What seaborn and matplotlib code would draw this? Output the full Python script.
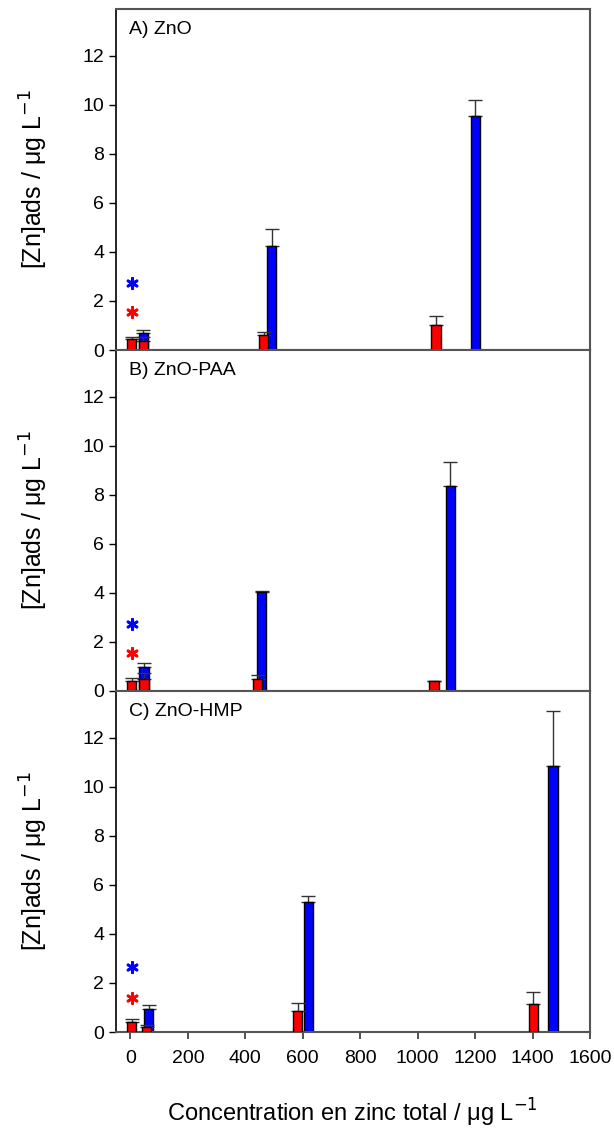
import matplotlib
matplotlib.use("Agg")
import matplotlib.pyplot as plt
import seaborn as sns
import numpy as np

# panel titles
panels = ["A) ZnO", "B) ZnO-PAA", "C) ZnO-HMP"]

# red series (x = total zinc, y = adsorbed zinc, upper error)
red_x = [[4, 45, 464, 1064], [4, 47, 443, 1057], [4, 57, 583, 1403]]
red_y = [[0.44, 0.38, 0.61, 1.02], [0.42, 0.48, 0.48, 0.41], [0.41, 0.20, 0.85, 1.13]]
red_err = [[0.10, 0.14, 0.12, 0.38], [0.12, 0.27, 0.16, 0.0], [0.13, 0.07, 0.35, 0.52]]

# blue series
blue_x = [[45, 492, 1200], [47, 457, 1113], [63, 619, 1471]]
blue_y = [[0.71, 4.24, 9.56], [0.97, 4.05, 8.34], [0.94, 5.30, 10.83]]
blue_err = [[0.11, 0.69, 0.62], [0.16, 0.02, 0.99], [0.15, 0.25, 2.27]]

# significance stars
star_x = [4, 4, 4]
star_red_y = [1.56, 1.56, 1.38]
star_blue_y = [2.72, 2.73, 2.64]

x_ticks = [0, 200, 400, 600, 800, 1000, 1200, 1400, 1600]
y_ticks = [0, 2, 4, 6, 8, 10, 12]

sns.set_style("ticks")
plt.rcParams['font.family'] = ['Liberation Sans', 'DejaVu Sans']
plt.rcParams['text.color'] = 'black'
plt.rcParams['axes.labelcolor'] = 'black'
plt.rcParams['xtick.labelcolor'] = 'black'
plt.rcParams['ytick.labelcolor'] = 'black'

fig = plt.figure(figsize=(6.14, 11.35), dpi=100)
bottoms = [0.6916, 0.3912, 0.0907]
bar_w = 32

for i in range(3):
    ax = fig.add_axes([0.189, bottoms[i], 0.772, 0.3004])
    ax.bar(blue_x[i], blue_y[i], width=bar_w, color='#0000ff', edgecolor='black',
           linewidth=1, zorder=2)
    ax.errorbar(blue_x[i], blue_y[i], yerr=[np.zeros(len(blue_err[i])), blue_err[i]],
                fmt='none', ecolor='#333333', elinewidth=1, capsize=5, capthick=1, zorder=1.5)
    ax.bar(red_x[i], red_y[i], width=bar_w, color='#ff0000', edgecolor='black',
           linewidth=1, zorder=3)
    ax.errorbar(red_x[i], red_y[i], yerr=[np.zeros(len(red_err[i])), red_err[i]],
                fmt='none', ecolor='#333333', elinewidth=1, capsize=5, capthick=1, zorder=2.5)
    ax.scatter([star_x[i]], [star_blue_y[i]], marker=(6, 2, 0), s=55, color='#0000ff',
               linewidths=2, zorder=4)
    ax.scatter([star_x[i]], [star_red_y[i]], marker=(6, 2, 0), s=55, color='#ff0000',
               linewidths=2, zorder=4)

    ax.set_xlim(-50, 1600)
    ax.set_ylim(0, 13.9)
    ax.set_yticks(y_ticks)
    ax.tick_params(axis='y', labelsize=14, direction='out', length=5, width=1, color='black')
    ax.set_xticks(x_ticks)
    if i < 2:
        ax.tick_params(axis='x', length=0, labelbottom=False)
    else:
        ax.tick_params(axis='x', labelsize=14, direction='out', length=5, width=1.2,
                       color='#333333', pad=8)
        ax.set_xlabel(r'Concentration en zinc total / μg L$^{-1}$', fontsize=17)
        ax.xaxis.set_label_coords(0.498, -0.19)

    for side in ['top', 'right', 'bottom']:
        ax.spines[side].set_color('#555555')
        ax.spines[side].set_linewidth(1.5)
    ax.spines['left'].set_color('black')
    ax.spines['left'].set_linewidth(1.2)

    ax.set_ylabel(r'[Zn]ads / μg L$^{-1}$', fontsize=18)
    ax.yaxis.set_label_coords(-0.14, 0.5)
    ax.text(0.027, 0.94, panels[i], transform=ax.transAxes, fontsize=14,
            ha='left', va='center')

plt.savefig('out.png', dpi=100)
